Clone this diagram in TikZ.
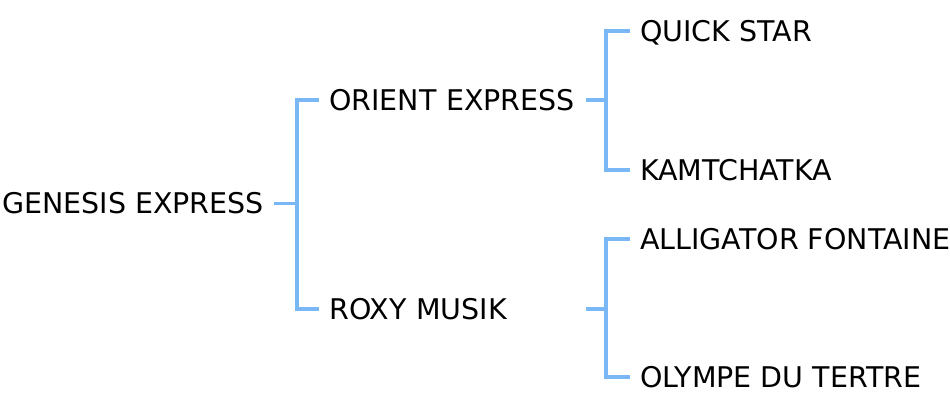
\documentclass[tikz,border=0pt]{standalone}
\usepackage{fontspec}
\setmainfont{DejaVu Sans}
\definecolor{linkblue}{RGB}{122,184,245}
\tikzset{
  item/.style={anchor=west, inner xsep=10pt, inner ysep=0pt, text height=20.8pt, text depth=0pt, font=\fontsize{28.5}{34}\selectfont},
  midlevel/.style={item, text width=247pt, align=left},
  link/.style={linkblue, line width=3.3pt}
}
\begin{document}
\begin{tikzpicture}[x=1pt, y=1pt]
        \useasboundingbox (0,0) rectangle (950,402);

        \node[item] (genesis) at (-8,198.5) {GENESIS EXPRESS};
        \node[midlevel] (orient) at (319,302) {ORIENT EXPRESS};
        \node[midlevel] (roxy) at (319,93) {ROXY MUSIK};
        \node[item] (quick) at (630,371) {QUICK STAR};
        \node[item] (kamt) at (630,232) {KAMTCHATKA};
        \node[item] (alligator) at (630,163) {ALLIGATOR FONTAINE};
        \node[item] (olympe) at (630,25) {OLYMPE DU TERTRE};

        % forks
        \coordinate (fork0) at (297,198.5);
        \coordinate (fork1) at (606,302);
        \coordinate (fork2) at (606,93);

        \draw[link] (genesis.east) -- (fork0);
        \draw[link] (orient.west) -| (fork0) |- (roxy.west);
        \draw[link] (orient.east) -- (fork1);
        \draw[link] (quick.west) -| (fork1) |- (kamt.west);
        \draw[link] (roxy.east) -- (fork2);
        \draw[link] (alligator.west) -| (fork2) |- (olympe.west);
    \end{tikzpicture}
\end{document}
